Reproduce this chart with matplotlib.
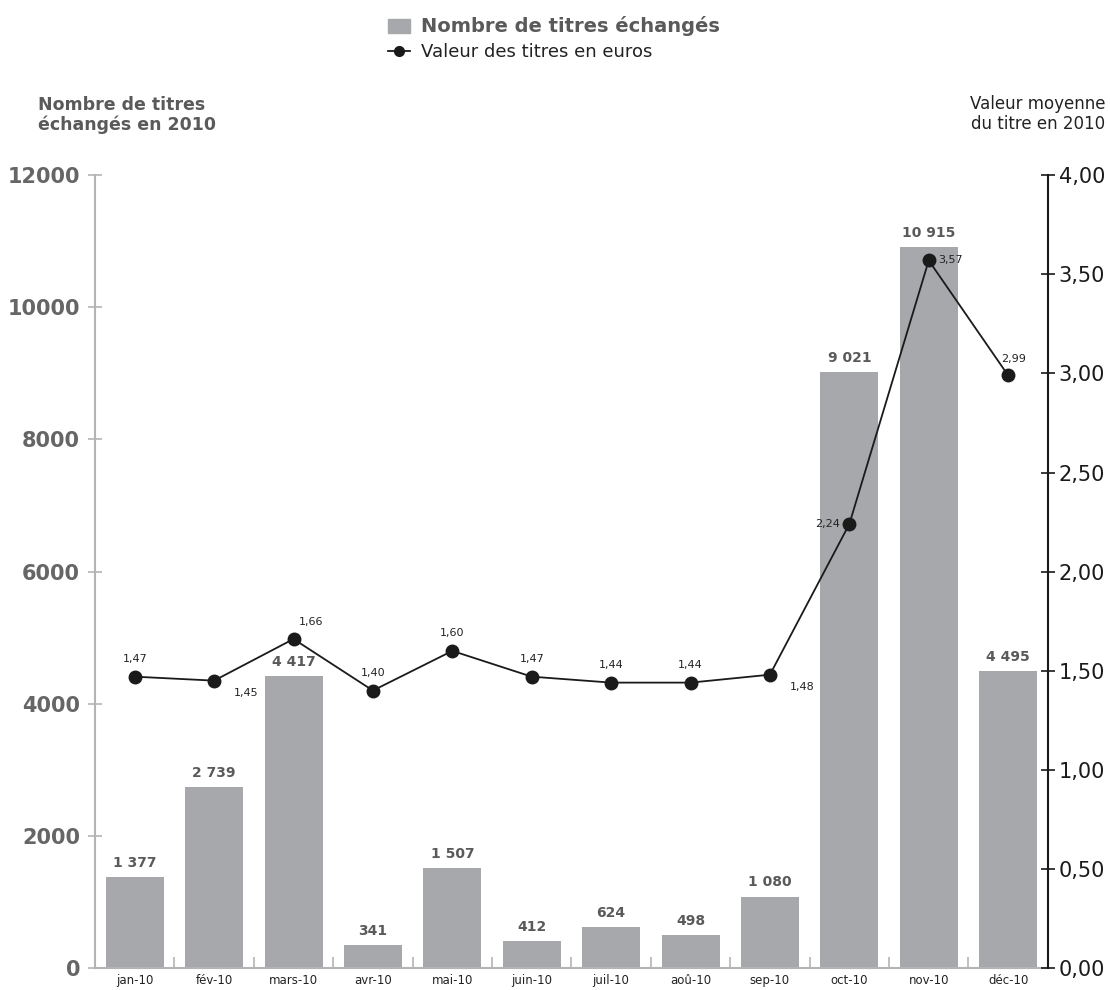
import matplotlib.pyplot as plt
from matplotlib.lines import Line2D
from matplotlib.patches import Patch
import numpy as np

mois = ['jan-10', 'fév-10', 'mars-10', 'avr-10', 'mai-10', 'juin-10',
        'juil-10', 'aoû-10', 'sep-10', 'oct-10', 'nov-10', 'déc-10']
nb_titres = [1377, 2739, 4417, 341, 1507, 412, 624, 498, 1080, 9021, 10915, 4495]
valeur = [1.47, 1.45, 1.66, 1.40, 1.60, 1.47, 1.44, 1.44, 1.48, 2.24, 3.57, 2.99]
ticks_gauche = [0, 2000, 4000, 6000, 8000, 10000, 12000]
ticks_droite = [0, 0.5, 1, 1.5, 2, 2.5, 3, 3.5, 4]

gris_barre = '#a7a8ac'
gris_texte = '#5a5a5a'
gris_axe = '#b4b4b4'

plt.rcParams['font.family'] = ['DejaVu Sans']

fig = plt.figure(figsize=(11.1, 9.9), dpi=100)
ax = fig.add_axes([0.0856, 0.0222, 0.8584, 0.8008])
ax2 = ax.twinx()

x = np.arange(len(mois))
ax.bar(x, nb_titres, width=0.73, color=gris_barre, zorder=2)
for xi, v in zip(x, nb_titres):
    txt = '{:,}'.format(v).replace(',', ' ')
    ax.text(xi, v + 110, txt, ha='center', va='bottom', fontsize=10,
            fontweight='bold', color=gris_texte)

ax.set_xlim(-0.5, len(mois) - 0.5)
ax.set_ylim(0, 12000)
ax.set_yticks(ticks_gauche)
ax.set_yticklabels([str(t) for t in ticks_gauche], fontsize=15,
                   fontweight='bold', color='#666666')
ax.tick_params(axis='y', direction='inout', length=9.5, width=1.2,
               color=gris_axe, pad=6)
ax.set_xticks(x)
ax.set_xticklabels(mois, fontsize=8.5, color='#222222',
                   family=['Liberation Sans Narrow', 'DejaVu Sans'])
ax.tick_params(axis='x', length=0, pad=4)
ax.set_xticks(x[:-1] + 0.5, minor=True)
ax.tick_params(axis='x', which='minor', direction='in', length=8,
               width=1.2, color=gris_axe)
for s in ['top', 'right']:
    ax.spines[s].set_visible(False)
ax.spines['left'].set_color(gris_axe)
ax.spines['left'].set_linewidth(1.5)
ax.spines['bottom'].set_color(gris_axe)
ax.spines['bottom'].set_linewidth(1.5)

# courbe de la valeur moyenne
ax2.plot(x, valeur, color='#1a1a1a', lw=1.3, marker='o', markersize=9,
         zorder=3)
ax2.set_ylim(0, 4)
ax2.set_yticks(ticks_droite)
ax2.set_yticklabels(['{:.2f}'.format(t).replace('.', ',') for t in ticks_droite],
                    fontsize=15, color='#1a1a1a')
ax2.tick_params(axis='y', direction='inout', length=9.5, width=1.2,
                color='#1a1a1a', pad=3)
for s in ['top', 'left', 'bottom']:
    ax2.spines[s].set_visible(False)
ax2.spines['right'].set_color('#1a1a1a')
ax2.spines['right'].set_linewidth(1.5)

# position des etiquettes de valeur (decalage en points)
decal = [(0, 9, 'center', 'bottom'), (14, -5, 'left', 'top'),
         (4, 9, 'left', 'bottom'), (0, 9, 'center', 'bottom'),
         (0, 9, 'center', 'bottom'), (0, 9, 'center', 'bottom'),
         (0, 9, 'center', 'bottom'), (0, 9, 'center', 'bottom'),
         (14, -5, 'left', 'top'), (-7, 0, 'right', 'center'),
         (7, 0, 'left', 'center'), (4, 8, 'center', 'bottom')]
for xi, v, (dx, dy, ha, va) in zip(x, valeur, decal):
    ax2.annotate('{:.2f}'.format(v).replace('.', ','), (xi, v),
                 xytext=(dx, dy), textcoords='offset points', ha=ha, va=va,
                 fontsize=8, color='#222222')

fig.text(0.034, 0.884, 'Nombre de titres\néchangés en 2010', fontsize=12.5,
         fontweight='bold', color=gris_texte, ha='left', va='center',
         linespacing=1.15)
fig.text(0.996, 0.885, 'Valeur moyenne\ndu titre en 2010', fontsize=12,
         color='#222222', ha='right', va='center', linespacing=1.1)

handles = [Patch(color=gris_barre),
           Line2D([], [], color='#1a1a1a', marker='o', markersize=7, lw=1.3)]
leg = fig.legend(handles, ['Nombre de titres échangés', 'Valeur des titres en euros'],
                 loc='upper left', bbox_to_anchor=(0.335, 1.0), frameon=False,
                 handlelength=1.2, handleheight=0.8, handletextpad=0.6,
                 labelspacing=0.4, fontsize=13)
leg.get_texts()[0].set_fontweight('bold')
leg.get_texts()[0].set_color(gris_texte)
leg.get_texts()[0].set_fontsize(14)
leg.get_texts()[1].set_color('#222222')

fig.savefig('out.png', dpi=100)
